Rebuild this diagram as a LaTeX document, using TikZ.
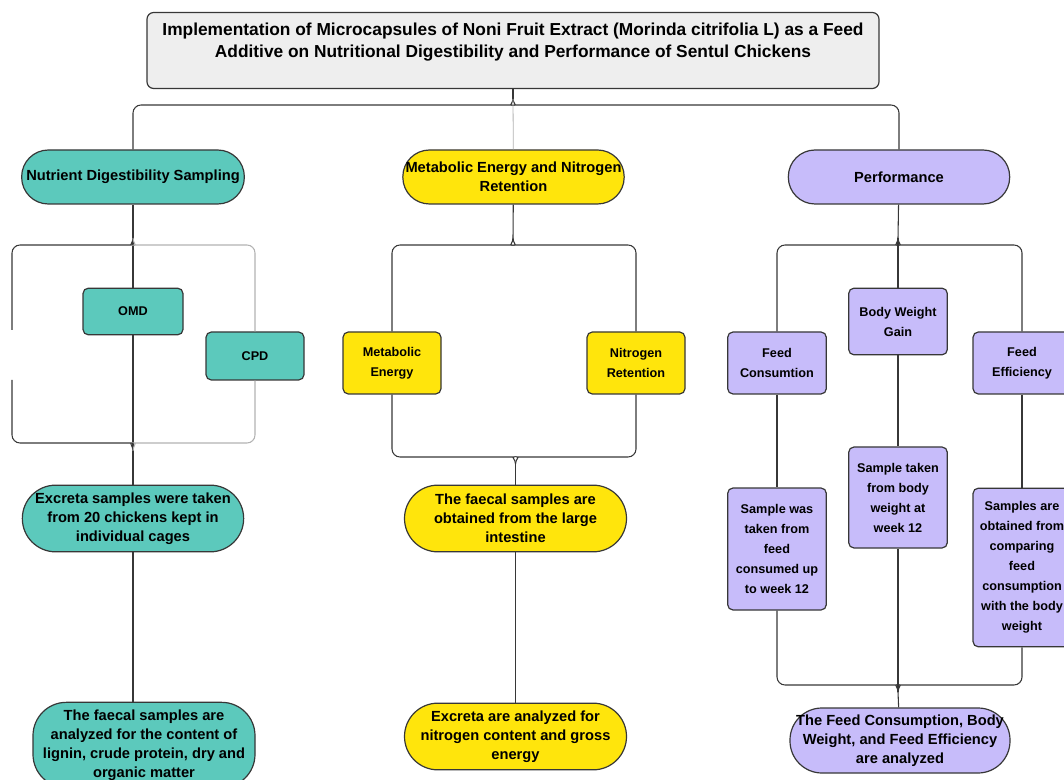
\documentclass[tikz,border=0pt]{standalone}
\usepackage{fontspec}
\setmainfont{Liberation Sans}

\definecolor{tealfill}{RGB}{92,201,188}
\definecolor{yellowfill}{RGB}{255,229,12}
\definecolor{purplefill}{RGB}{199,188,250}
\definecolor{titlefill}{RGB}{238,238,238}
\definecolor{linedark}{RGB}{55,55,55}

\begin{document}
\begin{tikzpicture}[x=0.75pt, y=-0.75pt,
    pill/.style={rectangle, rounded corners=20pt, draw=linedark, line width=0.9pt,
                 inner xsep=0pt, align=center, font=\bfseries\fontsize{11}{14.2}\selectfont},
    box/.style={rectangle, rounded corners=4pt, draw=linedark, line width=0.9pt,
                inner sep=1pt, align=center, font=\bfseries\fontsize{9.5}{15}\selectfont},
    link/.style={draw=linedark, line width=0.8pt, rounded corners=6pt}]

\useasboundingbox (0,0) rectangle (1064,780);
\clip (0,0) rectangle (1064,780);

\node (title) at (513,50.5) [draw=linedark, line width=0.9pt, fill=titlefill, rounded corners=5pt, inner sep=0pt]
    {\parbox[c][57pt][t]{549pt}{\centering\bfseries\fontsize{13}{16.5}\selectfont\vspace{8pt}
     Implementation of Microcapsules of Noni Fruit Extract (Morinda citrifolia L) as a Feed\\
     Additive on Nutritional Digestibility and Performance of Sentul Chickens}};

% nutrient digestibility
\begin{scope}[every node/.style={fill=tealfill}]
    \node (nds) at (133, 177) [pill, minimum width=167pt, minimum height=40.5pt] {Nutrient Digestibility Sampling};
    \node (omd) at (133, 311.5) [box, minimum width=75pt, minimum height=35pt] {OMD};
    \node (cpd) at (255, 356) [box, minimum width=73.5pt, minimum height=36pt] {CPD};
    \node (ex1) at (133, 518.5) [pill, rounded corners=25pt, minimum width=166pt, minimum height=50pt]
        {Excreta samples were taken\\from 20 chickens kept in\\individual cages};
    \node (fs1) at (144, 745) [pill, rounded corners=25pt, minimum width=166.5pt, minimum height=64pt]
        {The faecal samples are\\analyzed for the content of\\lignin, crude protein, dry and\\organic matter};
\end{scope}

% metabolic energy
\begin{scope}[every node/.style={fill=yellowfill}]
    \node (men) at (513.5, 177) [pill, minimum width=166pt, minimum height=40.5pt] {Metabolic Energy and Nitrogen\\Retention};
    \node (me) at (392, 363) [box, minimum width=73.5pt, minimum height=46.5pt] {Metabolic\\Energy};
    \node (nr) at (636, 363) [box, minimum width=73.5pt, minimum height=46.5pt] {Nitrogen\\Retention};
    \node (fs2) at (515.5, 518.5) [pill, rounded corners=25pt, minimum width=166.5pt, minimum height=50pt]
        {The faecal samples are\\obtained from the large\\intestine};
    \node (ex2) at (515.5, 736.5) [pill, rounded corners=25pt, minimum width=166.5pt, minimum height=50pt]
        {Excreta are analyzed for\\nitrogen content and gross\\energy};
\end{scope}

% performance
\begin{scope}[every node/.style={fill=purplefill}]
    \node (perf) at (899, 177) [pill, minimum width=166pt, minimum height=40.5pt] {Performance};
    \node (fc) at (777, 363) [box, minimum width=74pt, minimum height=46.5pt] {Feed\\Consumtion};
    \node (bwg) at (898, 321.5) [box, minimum width=74pt, minimum height=50pt] {Body Weight\\Gain};
    \node (fe) at (1022, 363) [box, minimum width=73.5pt, minimum height=46.5pt] {Feed\\Efficiency};
    \node (s1) at (777, 549) [box, minimum width=74pt, minimum height=91.5pt]
        {Sample was\\taken from\\feed\\consumed up\\to week 12};
    \node (s2) at (898, 497.5) [box, minimum width=74pt, minimum height=75.75pt]
        {Sample taken\\from body\\weight at\\week 12};
    \node (s3) at (1022, 567.5) [box, minimum width=73.5pt, minimum height=119pt]
        {Samples are\\obtained from\\comparing\\feed\\consumption\\with the body\\weight};
    \node (res) at (900, 740.5) [pill, rounded corners=24pt, minimum width=165pt, minimum height=48.75pt]
        {The Feed Consumption, Body\\Weight, and Feed Efficiency\\are analyzed};
\end{scope}

% brace tips
\coordinate (tT) at (513, 99);
\coordinate (tA) at (133, 238);
\coordinate (tB) at (133, 451);
\coordinate (tC) at (513, 238);
\coordinate (tD) at (515.5, 464);
\coordinate (tE) at (898, 238);
\coordinate (tF) at (898, 692);
\coordinate (gapTop) at (12, 330);
\coordinate (gapBot) at (12, 380);

% title
\draw[link] (title) -- (tT);
\draw[link] (tT) .. controls (513,103) and (509,105) .. (504,105) -| (nds);
\draw[link] (tT) .. controls (513,103) and (517,105) .. (522,105) -| (perf);
\draw[link, draw=gray!60, line width=0.6pt] (tT) -- (men);

% nutrient digestibility
\draw[link] (nds) -- (tA);
\draw[link] (tA) -- (omd);
\draw[link] (tA) .. controls (133,243) and (129,245) .. (124,245) -| (gapTop);
\draw[link, draw=gray!60] (tA) .. controls (133,243) and (137,245) .. (142,245) -| (cpd);
\draw[link] (gapBot) |- (124,443) .. controls (129,443) and (133,446) .. (tB);
\draw[link] (omd) -- (tB);
\draw[link, draw=gray!60] (cpd) |- (142,443) .. controls (137,443) and (133,446) .. (tB);
\draw[link] (tB) -- (ex1);
\draw[link] (ex1) -- (ex1 |- fs1.north);

% metabolic energy
\draw[link] (men) -- (tC);
\draw[link] (tC) .. controls (513,243) and (509,245) .. (504,245) -| (me);
\draw[link] (tC) .. controls (513,243) and (517,245) .. (522,245) -| (nr);
\draw[link] (me) |- (506,457) .. controls (511,457) and (515.5,459) .. (tD);
\draw[link] (nr) |- (525,457) .. controls (520,457) and (515.5,459) .. (tD);
\draw[link] (tD) -- (fs2);
\draw[link] (fs2) -- (ex2);

% performance
\draw[link] (perf) -- (tE);
\draw[link] (tE) -- (bwg);
\draw[link] (tE) .. controls (898,243) and (894,245) .. (889,245) -| (fc);
\draw[link] (tE) .. controls (898,243) and (902,245) .. (907,245) -| (fe);
\draw[link] (fc) -- (s1);
\draw[link] (bwg) -- (s2);
\draw[link] (fe) -- (s3);
\draw[link] (s1) |- (889,685) .. controls (894,685) and (898,687) .. (tF);
\draw[link] (s3) |- (907,685) .. controls (902,685) and (898,687) .. (tF);
\draw[link] (s2) -- (tF);
\draw[link] (tF) -- (res);

\end{tikzpicture}
\end{document}
